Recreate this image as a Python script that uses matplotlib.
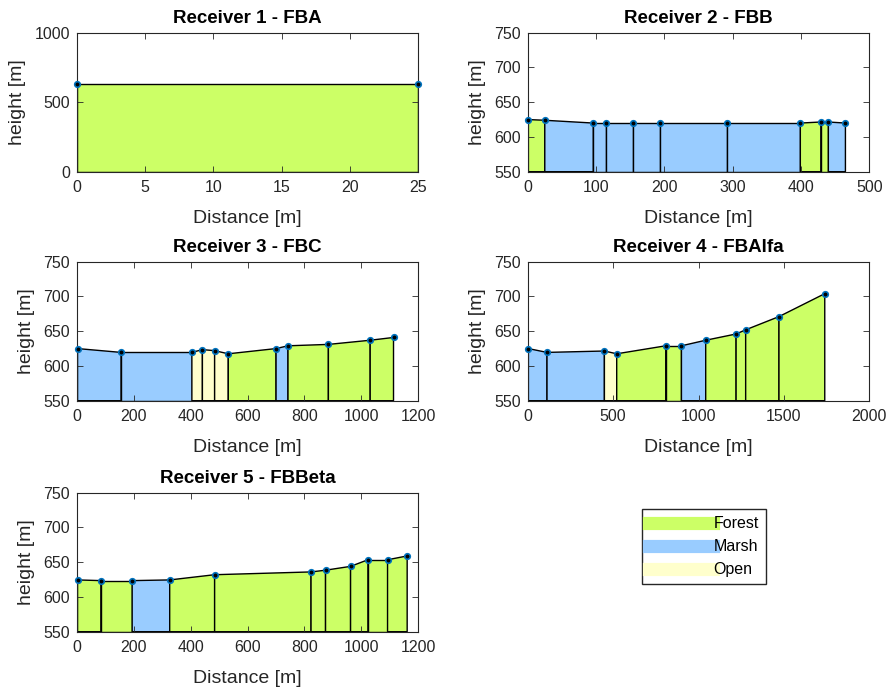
import matplotlib.pyplot as plt
from matplotlib.lines import Line2D

plt.rcParams['font.family'] = ['Liberation Sans', 'DejaVu Sans']

# land cover colours
COLORS = {'Forest': '#CCFF66', 'Marsh': '#99CCFF', 'Open': '#FFFFCC'}

# Receiver profiles: distance [m], height [m], land type of each segment
r1_dist = [0, 25]
r1_height = [628, 628]
r1_type = ['Forest']

r2_dist = [1, 25, 96, 115, 154, 193, 292, 399, 429, 440, 465]
r2_height = [625, 624, 620, 620, 620, 620, 620, 620, 621.5, 621.5, 620]
r2_type = ['Forest', 'Marsh', 'Marsh', 'Marsh', 'Marsh', 'Marsh', 'Marsh',
           'Forest', 'Forest', 'Marsh']

r3_dist = [2, 155, 404, 441, 484, 532, 700, 742, 884, 1031, 1113]
r3_height = [625, 619.5, 619.5, 623.5, 622, 617.5, 625, 629, 631, 637, 641]
r3_type = ['Marsh', 'Marsh', 'Open', 'Open', 'Open', 'Forest', 'Marsh',
           'Forest', 'Forest', 'Forest']

r4_dist = [4, 113, 449, 521, 808, 900, 1042, 1220, 1276, 1471, 1739]
r4_height = [625, 619.5, 621.5, 617.5, 629, 629, 637, 646, 652, 671, 704]
r4_type = ['Marsh', 'Marsh', 'Open', 'Forest', 'Forest', 'Marsh', 'Forest',
           'Forest', 'Forest', 'Forest']

r5_dist = [2, 84, 194, 326, 484, 823, 874, 962, 1023, 1092, 1161]
r5_height = [624.5, 623.5, 623.5, 624.5, 632, 636, 638.5, 644, 653.5, 653.5, 659]
r5_type = ['Forest', 'Forest', 'Marsh', 'Forest', 'Forest', 'Forest',
           'Forest', 'Forest', 'Forest', 'Forest']

titles = ['Receiver 1 - FBA', 'Receiver 2 - FBB', 'Receiver 3 - FBC',
          'Receiver 4 - FBAlfa', 'Receiver 5 - FBBeta']
profiles = [(r1_dist, r1_height, r1_type), (r2_dist, r2_height, r2_type),
            (r3_dist, r3_height, r3_type), (r4_dist, r4_height, r4_type),
            (r5_dist, r5_height, r5_type)]
xlims = [(0, 25), (0, 500), (0, 1200), (0, 2000), (0, 1200)]
ylims = [(0, 1000), (550, 750), (550, 750), (550, 750), (550, 750)]
xticks = [[0, 5, 10, 15, 20, 25], [0, 100, 200, 300, 400, 500],
          [0, 200, 400, 600, 800, 1000, 1200], [0, 500, 1000, 1500, 2000],
          [0, 200, 400, 600, 800, 1000, 1200]]
yticks = [[0, 500, 1000], [550, 600, 650, 700, 750], [550, 600, 650, 700, 750],
          [550, 600, 650, 700, 750], [550, 600, 650, 700, 750]]

# axes rectangles [left, bottom, width, height] in figure fractions
positions = [[0.0863, 0.7515, 0.3826, 0.2012], [0.5916, 0.7515, 0.3830, 0.2012],
             [0.0863, 0.4201, 0.3826, 0.2012], [0.5916, 0.4201, 0.3830, 0.2012],
             [0.0863, 0.0858, 0.3826, 0.2012]]

AXCOL = '#262626'

fig = plt.figure(figsize=(8.92, 6.91), dpi=100)

for i, (dist, height, ltype) in enumerate(profiles):
    ax = fig.add_axes(positions[i])
    base = ylims[i][0]
    for k in range(len(dist) - 1):
        xs = [dist[k], dist[k], dist[k + 1], dist[k + 1]]
        ys = [base, height[k], height[k + 1], base]
        ax.fill(xs, ys, facecolor=COLORS[ltype[k]], edgecolor='black', lw=1.0)
    ax.plot(dist, height, 'o', ls='none', ms=4, mfc='black', mec='#0072BD',
            mew=1.2, clip_on=False, zorder=5)
    ax.set_xlim(*xlims[i])
    ax.set_ylim(*ylims[i])
    ax.set_xticks(xticks[i])
    ax.set_yticks(yticks[i])
    ax.set_title(titles[i], fontsize=13.5, fontweight='bold', pad=7)
    ax.set_xlabel('Distance [m]', fontsize=14, color=AXCOL, labelpad=10.5)
    ax.set_ylabel('height [m]', fontsize=14, color=AXCOL, labelpad=6)
    ax.tick_params(direction='in', top=True, right=True, labelsize=11.5,
                   colors=AXCOL, length=4, width=0.6)
    ax.tick_params(axis='x', pad=6)
    ax.tick_params(axis='y', pad=5)
    for s in ax.spines.values():
        s.set_color(AXCOL)
        s.set_linewidth(0.8)

handles = [Line2D([0], [0], color=COLORS[n], lw=9.5) for n in COLORS]
fig.legend(handles, list(COLORS), loc='upper left',
           bbox_to_anchor=(0.720, 0.2634), borderaxespad=0, fontsize=11.5,
           handlelength=4.0, handletextpad=0.0, borderpad=0.45,
           labelspacing=0.5, fancybox=False, edgecolor=AXCOL, framealpha=1)

fig.savefig('out.png', dpi=100)
